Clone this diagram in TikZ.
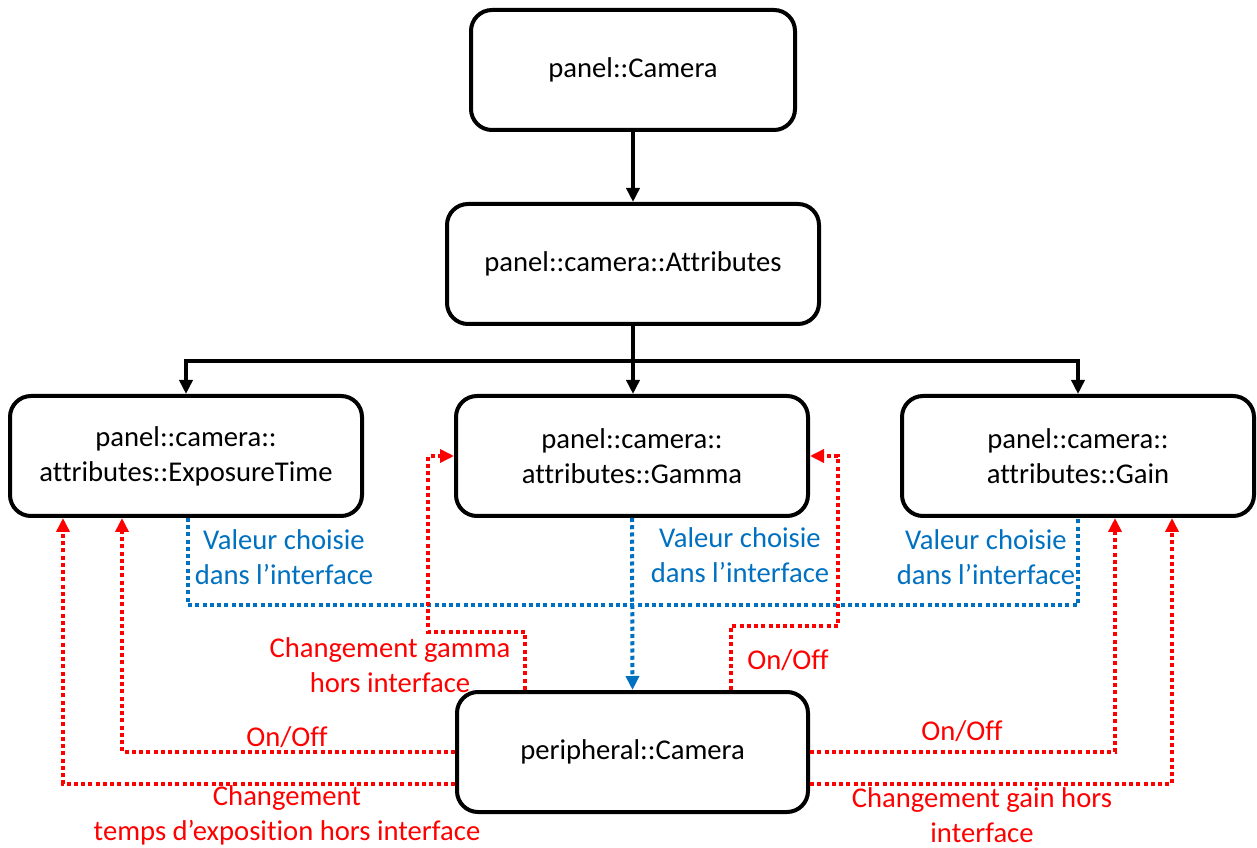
\documentclass[tikz,border=0pt]{standalone}
\usepackage{fontspec}
\setmainfont{Carlito}[Ligatures=NoCommon]
\usepackage{xcolor}
\usetikzlibrary{arrows.meta,positioning}
\definecolor{offred}{RGB}{255,0,0}
\definecolor{offblue}{RGB}{0,112,192}

\begin{document}
\begin{tikzpicture}[font=\fontsize{16.3}{19.8}\selectfont,
    box/.style={draw, line width=0.08cm, rounded corners=0.42cm, align=center, minimum height=2.4cm},
    link/.style={line width=0.075cm, -{Triangle[length=0.28cm,width=0.26cm]}},
    blueline/.style={offblue, line width=0.08cm, dash pattern=on 0.08cm off 0.065cm},
    redline/.style={offred, line width=0.08cm, dash pattern=on 0.08cm off 0.065cm, -{Triangle[length=0.28cm,width=0.26cm]}},
    bluetext/.style={offblue, align=center},
    redtext/.style={offred, align=center}]
                \useasboundingbox (0,0) rectangle (25.14,16.94);

                % Panel nodes
                \node[box, minimum width=6.48cm] (cam) at (12.66,15.54) {panel::Camera};
                \node[box, minimum width=7.44cm] (attr) at (12.66,11.66) {panel::camera::Attributes};
                \node[box, minimum width=7.04cm] (expo) at (3.72,7.82) {panel::camera::\\attributes::ExposureTime};
                \node[box, minimum width=7.04cm] (gamma) at (12.64,7.82) {panel::camera::\\attributes::Gamma};
                \node[box, minimum width=7.04cm] (gain) at (21.56,7.82) {panel::camera::\\attributes::Gain};

                % Peripheral node
                \node[box, minimum width=7.02cm] (peri) at (12.65,1.9) {peripheral::Camera};

                % Hierarchy
                \coordinate (split) at (12.66,9.72);
                \draw[link] (cam) -- (attr);
                \draw[link] (attr.south) -- (split) -| (expo.north);
                \draw[link] (split) -- (split |- gamma.north);
                \draw[link] (split) -| (gain.north);

                % Values chosen in the interface
                \coordinate (vbus) at (12.64,4.84);
                \draw[blueline] ([xshift=0.04cm]expo.south) |- (vbus) -| (gain.south);
                \draw[blueline, -{Triangle[length=0.28cm,width=0.26cm]}] (gamma.south) -- (peri.north);
                \node[bluetext] (vexpo) at (5.68,5.8) {Valeur choisie\\dans l’interface};
                \node[bluetext] (vgamma) at (14.8,5.84) {Valeur choisie\\dans l’interface};
                \node[bluetext] (vgain) at (19.72,5.8) {Valeur choisie\\dans l’interface};

                % Changes outside the interface
                \draw[redline] ([xshift=-2.15cm]peri.north) -- ++(0,1.16) -- ++(-1.94,0) |- (gamma.west);
                \draw[redline] ([xshift=1.97cm]peri.north) -- ++(0,1.28) -- ++(2.14,0) |- (gamma.east);
                \draw[redline] (peri.west) -| ([xshift=-1.28cm]expo.south);
                \draw[redline] ([yshift=-0.64cm]peri.west) -| ([xshift=-2.46cm]expo.south);
                \draw[redline] (peri.east) -| ([xshift=0.74cm]gain.south);
                \draw[redline] ([yshift=-0.64cm]peri.east) -| ([xshift=1.88cm]gain.south);

                \node[redtext] (cgamma) at (7.8,3.64) {Changement gamma\\hors interface};
                \node[redtext] (ogamma) at (15.76,3.74) {On/Off};
                \node[redtext] (oexpo) at (5.74,2.2) {On/Off};
                \node[redtext] (cexpo) at (5.74,0.64) {Changement\\temps d’exposition hors interface};
                \node[redtext] (ogain) at (19.24,2.32) {On/Off};
                \node[redtext] (cgain) at (19.64,0.64) {Changement gain hors\\interface};
            \end{tikzpicture}
\end{document}
